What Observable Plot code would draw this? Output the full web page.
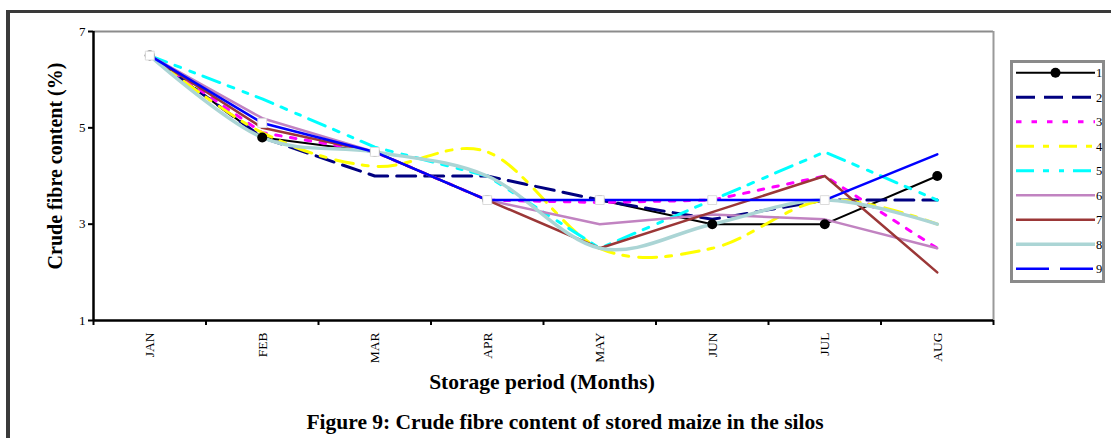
<!DOCTYPE html>
<html>
<head>
<meta charset="utf-8">
<script src="https://cdn.jsdelivr.net/npm/d3@7"></script>
<script src="https://cdn.jsdelivr.net/npm/@observablehq/plot@0.6"></script>
<style>
  html, body { margin: 0; padding: 0; background: #fff; }
  #fig { position: relative; width: 1111px; height: 438px; overflow: hidden; background: #fff;
         font-family: "Liberation Serif", "Times New Roman", serif; }
  #frame { position: absolute; left: 6px; top: 10px; width: 1200px; height: 600px;
           border-left: 4px solid #3a3a3a; border-top: 3px solid #3a3a3a; }
  #chart { position: absolute; left: 0; top: 0; }
  #legend { position: absolute; left: 1010px; top: 60px; }
</style>
</head>
<body>
<div id="fig">
  <div id="frame"></div>
  <div id="chart"></div>
  <div id="legend"></div>
</div>
<script>
// ---- data ----
const months = ["JAN", "FEB", "MAR", "APR", "MAY", "JUN", "JUL", "AUG"];
const seriesNames = ["1", "2", "3", "4", "5", "6", "7", "8", "9"];
const s1 = [6.5, 4.8, 4.5, 3.5, 3.5, 3.0, 3.0, 4.0];
const s2 = [6.5, 4.8, 4.0, 4.0, 3.5, 3.1, 3.5, 3.5];
const s3 = [6.5, 4.9, 4.5, 3.5, 3.45, 3.5, 4.0, 2.5];
const s4 = [6.5, 4.9, 4.2, 4.5, 2.5, 2.5, 3.5, 3.0];
const s5 = [6.5, 5.6, 4.6, 4.0, 2.5, 3.5, 4.5, 3.5];
const s6 = [6.5, 5.2, 4.5, 3.5, 3.0, 3.2, 3.1, 2.5];
const s7 = [6.5, 5.0, 4.5, 3.5, 2.5, 3.25, 4.0, 2.0];
const s8 = [6.5, 4.8, 4.5, 4.0, 2.5, 3.0, 3.5, 3.0];
const s9 = [6.5, 5.1, 4.5, 3.5, 3.5, 3.5, 3.5, 4.45];
const yTicks = [1, 3, 5, 7];
const yTitle = "Crude fibre content (%)";
const xTitle = "Storage period (Months)";
const caption = "Figure 9: Crude fibre content of stored maize in the silos";

const allSeries = [s1, s2, s3, s4, s5, s6, s7, s8, s9];

// ---- styles ----
const styles = [
  {stroke: "#000000", width: 2,   dash: null,            legendDash: null,            curve: "linear"},
  {stroke: "#000080", width: 3,   dash: "19,9",          legendDash: "19,9",          curve: "linear"},
  {stroke: "#FF00FF", width: 3,   dash: "5.5,9.5",       legendDash: "5.5,10",        curve: "linear"},
  {stroke: "#FFFF00", width: 3,   dash: "18,9,6,10",     legendDash: "18,9,6,10",     curve: "cardinal"},
  {stroke: "#00FFFF", width: 3,   dash: "18,9,6,10,5,9", legendDash: "18,9,6,10,5,9", curve: "linear"},
  {stroke: "#C183C1", width: 2.5, dash: null,            legendDash: null,            curve: "linear"},
  {stroke: "#9B3737", width: 2.5, dash: null,            legendDash: null,            curve: "linear"},
  {stroke: "#ABD5D5", width: 3.5, dash: null,            legendDash: null,            curve: "cardinal"},
  {stroke: "#0000FF", width: 2.5, dash: null,            legendDash: "33,11",         curve: "linear"}
];

const rows = [];
allSeries.forEach((vals, si) => vals.forEach((v, i) => rows.push({series: seriesNames[si], si, i, month: months[i], v})));

const idx = months.map((_, i) => i);
const bounds = months.map((_, i) => i - 0.5).concat([months.length - 0.5]);

const lineMarks = allSeries.map((vals, si) => Plot.line(rows.filter(d => d.si === si), {
  x: "i", y: "v",
  stroke: styles[si].stroke,
  strokeWidth: styles[si].width,
  strokeDasharray: styles[si].dash,
  curve: styles[si].curve,
  strokeLinejoin: "round"
}));

const chart = Plot.plot({
  width: 1111,
  height: 438,
  marginLeft: 93,
  marginRight: 118,
  marginTop: 31,
  marginBottom: 118,
  style: {fontFamily: '"Liberation Serif", "Times New Roman", serif', background: "transparent", color: "#000"},
  x: {type: "linear", domain: [-0.5, months.length - 0.5]},
  y: {type: "linear", domain: [1, 7]},
  marks: [
    Plot.ruleY([7], {stroke: "#8c8c8c", strokeWidth: 2}),
    Plot.ruleX([months.length - 0.5], {stroke: "#9a9a9a", strokeWidth: 2}),
    ...lineMarks,
    Plot.dot(rows.filter(d => d.si === 0), {x: "i", y: "v", r: 5, fill: "#000", stroke: "none"}),
    Plot.dot(rows.filter(d => d.si === 8 && d.i < months.length - 1), {x: "i", y: "v", symbol: "square", r: 5, fill: "#fff", stroke: "#dcdcdc", strokeWidth: 1}),
    Plot.axisY({ticks: yTicks, tickSize: 5, tickPadding: 3, fontSize: 13, tickFormat: d => String(d), strokeWidth: 2, label: null}),
    Plot.axisX({ticks: bounds, tickSize: 5, tickFormat: () => "", strokeWidth: 2, label: null}),
    Plot.axisX({ticks: idx, tickSize: 0, tickPadding: 12, tickRotate: -90, fontSize: 13.5, tickFormat: i => months[i], label: null}),
    Plot.ruleX([-0.5], {stroke: "#000", strokeWidth: 2.5}),
    Plot.ruleY([1], {stroke: "#000", strokeWidth: 2.5})
  ]
});

document.getElementById("chart").appendChild(chart);

const svg = d3.select(chart);

// titles
svg.append("text")
  .attr("transform", "translate(62,166) rotate(-90)")
  .attr("text-anchor", "middle")
  .style("font-size", "20px")
  .attr("font-weight", "bold")
  .attr("fill", "#000")
  .text(yTitle);
svg.append("text")
  .attr("x", 542).attr("y", 389)
  .attr("text-anchor", "middle")
  .style("font-size", "21.5px")
  .attr("font-weight", "bold")
  .attr("fill", "#000")
  .text(xTitle);
svg.append("text")
  .attr("x", 565).attr("y", 429)
  .attr("text-anchor", "middle")
  .style("font-size", "21.5px")
  .attr("font-weight", "bold")
  .attr("fill", "#000")
  .text(caption);

// legend
const lw = 95, lh = 223;
const lg = d3.select("#legend").append("svg")
  .attr("width", lw).attr("height", lh)
  .style("font-family", '"Liberation Serif", "Times New Roman", serif');
lg.append("rect").attr("x", 1.5).attr("y", 1.5).attr("width", lw - 3).attr("height", lh - 3)
  .attr("fill", "#fff").attr("stroke", "#8a8a8a").attr("stroke-width", 3);
seriesNames.forEach((name, si) => {
  const y = 12.7 + si * 24.5;
  const st = styles[si];
  lg.append("line").attr("x1", 6).attr("x2", 85).attr("y1", y).attr("y2", y)
    .attr("stroke", st.stroke).attr("stroke-width", st.width)
    .attr("stroke-dasharray", st.legendDash);
  if (si === 0) lg.append("circle").attr("cx", 45.5).attr("cy", y).attr("r", 5).attr("fill", "#000");
  lg.append("text").attr("x", 86).attr("y", y + 4.5).style("font-size", "12.5px").attr("fill", "#000").text(name);
});
</script>
</body>
</html>
